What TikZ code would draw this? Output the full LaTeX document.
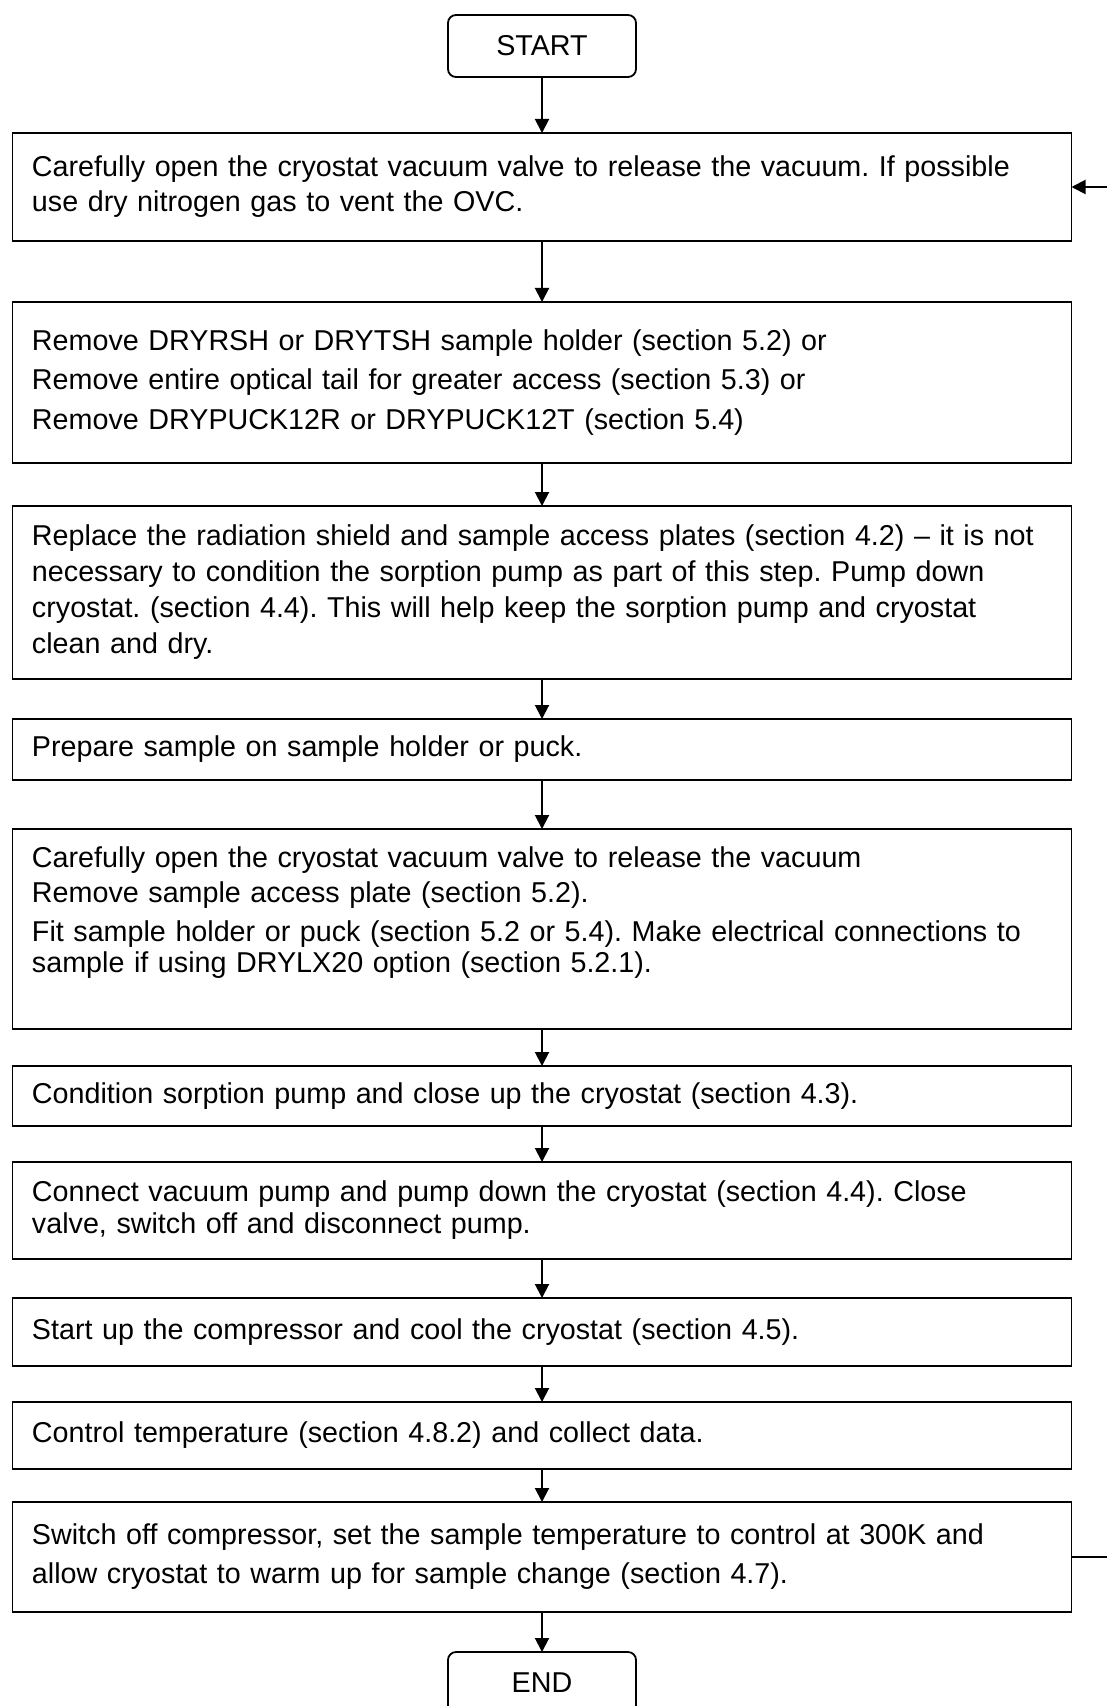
\documentclass[tikz,border=0pt]{standalone}
\usepackage{fontspec}
\setmainfont{Liberation Sans}
\usetikzlibrary{positioning,arrows.meta}
\frenchspacing

\begin{document}
\begin{tikzpicture}[
    node distance=20pt,
    stepbox/.style={rectangle, draw=black, line width=0.9pt, outer sep=0pt, text width=510pt,
        inner xsep=9.75pt, inner ysep=0pt, align=left, lsp=17.5pt},
    terminal/.style={rectangle, rounded corners=4pt, draw=black, line width=0.9pt, outer sep=0pt,
        minimum width=94pt, minimum height=31pt, lsp=17.5pt},
    lsp/.style={font=\fontsize{14.35pt}{#1}\selectfont},
    flow/.style={-{Triangle[length=7pt,width=7pt]}, line width=1pt},
]
\useasboundingbox (0,0) rectangle (553.5pt,-853pt);

% start of the sample change cycle
\node[terminal] (start) at (271pt,-23pt) {START};
\node[stepbox, minimum height=54pt, below=28pt of start] (vent1) {Carefully open the cryostat vacuum valve to release the vacuum. If possible\\
use dry nitrogen gas to vent the OVC.};
\node[stepbox, lsp=19.75pt, minimum height=80.5pt, below=30.5pt of vent1] (remove) {Remove DRYRSH or DRYTSH sample holder (section 5.2) or\\
Remove entire optical tail for greater access (section 5.3) or\\
Remove DRYPUCK12R or DRYPUCK12T (section 5.4)};
\node[stepbox, lsp=18pt, minimum height=86.5pt, below=21.5pt of remove] (replace) {Replace the radiation shield and sample access plates (section 4.2) -- it is not\\
necessary to condition the sorption pump as part of this step. Pump down\\
cryostat. (section 4.4). This will help keep the sorption pump and cryostat\\
clean and dry.};
\node[stepbox, minimum height=30.5pt, below=20pt of replace] (prepare) {Prepare sample on sample holder or puck.};
\node[stepbox, lsp=15.5pt, minimum height=100pt, below=24.5pt of prepare] (fit) {Carefully open the cryostat vacuum valve to release the vacuum\\[2pt]
Remove sample access plate (section 5.2).\\[4pt]
Fit sample holder or puck (section 5.2 or 5.4). Make electrical connections to\\
sample if using DRYLX20 option (section 5.2.1).\\[3.5pt]
\mbox{}};

% cool down and measure
\node[stepbox, minimum height=30pt, below=18.5pt of fit] (cond) {Condition sorption pump and close up the cryostat (section 4.3).};
\node[stepbox, lsp=16pt, minimum height=48.5pt, below=18pt of cond] (pump) {Connect vacuum pump and pump down the cryostat (section 4.4). Close\\
valve, switch off and disconnect pump.};
\node[stepbox, minimum height=34pt, below=19.5pt of pump] (cool) {Start up the compressor and cool the cryostat (section 4.5).};
\node[stepbox, minimum height=33.5pt, below=18pt of cool] (control) {Control temperature (section 4.8.2) and collect data.};
\node[stepbox, lsp=19.5pt, minimum height=55pt, below=16.5pt of control] (warm) {Switch off compressor, set the sample temperature to control at 300K and\\
allow cryostat to warm up for sample change (section 4.7).};
\node[terminal, below=20pt of warm] (end) {END};

\draw[flow] (start) -- (vent1);
\draw[flow] (vent1) -- (remove);
\draw[flow] (remove) -- (replace);
\draw[flow] (replace) -- (prepare);
\draw[flow] (prepare) -- (fit);
\draw[flow] (fit) -- (cond);
\draw[flow] (cond) -- (pump);
\draw[flow] (pump) -- (cool);
\draw[flow] (cool) -- (control);
\draw[flow] (control) -- (warm);
\draw[flow] (warm) -- (end);
% loop back for the next sample
\draw[flow] (warm.east) -- ++(19.5pt,0) |- (vent1.east);
\end{tikzpicture}
\end{document}
